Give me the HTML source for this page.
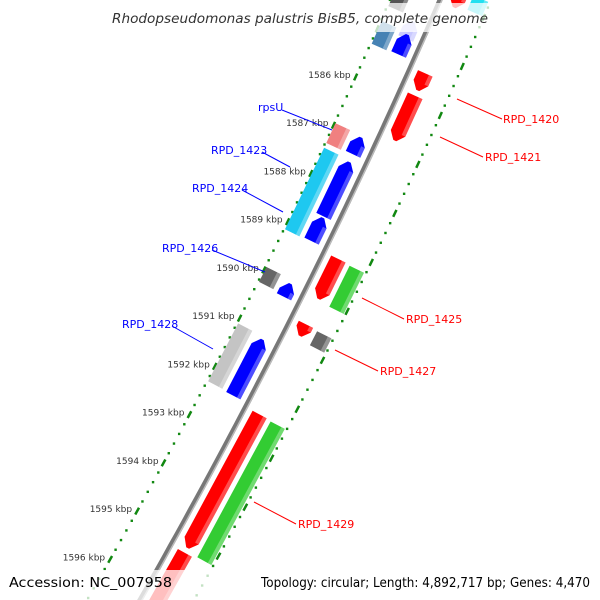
<!DOCTYPE html>
<html><head><meta charset="utf-8"><style>
html,body{margin:0;padding:0;background:#fff;width:600px;height:600px;overflow:hidden;}
svg{display:block;}
text{font-family:"DejaVu Sans","Liberation Sans",sans-serif;}
</style></head><body>
<svg id="map" width="600" height="600" viewBox="0 0 600 600" xmlns="http://www.w3.org/2000/svg">
<g id="ticks"></g>
<g id="backbone"></g>
<g id="genes"></g>
<g id="labels">
<line x1="282" y1="110" x2="332" y2="130" stroke="#0000ff" stroke-width="1"/>
<text x="258" y="111" font-size="11" fill="#0000ff">rpsU</text>
<line x1="262" y1="152" x2="290" y2="167" stroke="#0000ff"/>
<text x="211" y="154" font-size="11" fill="#0000ff">RPD_1423</text>
<line x1="242" y1="190" x2="283" y2="212" stroke="#0000ff"/>
<text x="192" y="192" font-size="11" fill="#0000ff">RPD_1424</text>
<line x1="212" y1="250" x2="265" y2="272" stroke="#0000ff"/>
<text x="162" y="252" font-size="11" fill="#0000ff">RPD_1426</text>
<line x1="172" y1="326" x2="213" y2="349" stroke="#0000ff"/>
<text x="122" y="328" font-size="11" fill="#0000ff">RPD_1428</text>
<line x1="457" y1="99" x2="502" y2="119" stroke="#ff0000"/>
<text x="503" y="123" font-size="11" fill="#ff0000">RPD_1420</text>
<line x1="440" y1="137" x2="483" y2="157" stroke="#ff0000"/>
<text x="485" y="161" font-size="11" fill="#ff0000">RPD_1421</text>
<line x1="362" y1="298" x2="404" y2="319" stroke="#ff0000"/>
<text x="406" y="323" font-size="11" fill="#ff0000">RPD_1425</text>
<line x1="335" y1="350" x2="378" y2="371" stroke="#ff0000"/>
<text x="380" y="375" font-size="11" fill="#ff0000">RPD_1427</text>
<line x1="254" y1="502" x2="296" y2="524" stroke="#ff0000"/>
<text x="298" y="528" font-size="11" fill="#ff0000">RPD_1429</text>
</g>
<rect x="0" y="3" width="600" height="29" fill="#fff" opacity="0.75"/>
<text x="300" y="23" font-size="13" font-style="italic" fill="#333" text-anchor="middle" textLength="376" lengthAdjust="spacingAndGlyphs">Rhodopseudomonas palustris BisB5, complete genome</text>
<rect x="0" y="570" width="600" height="30" fill="#fff" opacity="0.75"/>
<text x="9" y="587" font-size="13" fill="#000" textLength="163" lengthAdjust="spacingAndGlyphs">Accession: NC_007958</text>
<text x="261" y="587" font-size="13" fill="#000" textLength="329" lengthAdjust="spacingAndGlyphs">Topology: circular; Length: 4,892,717 bp; Genes: 4,470</text>
</svg>
<script>
// gene data (kbp)
const geneStarts = [1584.6,1584.87,1586.99,1587.50,1588.65,1590.01,1591.16, 1583.9,1584.83,1586.95,1587.46,1589.93,1591.10, 1583.8,1585.40,1585.86,1589.21,1590.55,1592.40,1595.24, 1583.7,1589.23,1590.57,1592.42];
const geneEnds   = [1584.95,1585.28,1587.34,1588.62,1589.13,1590.28,1592.32, 1584.52,1585.30,1587.36,1589.15,1590.24,1592.30, 1584.05,1585.75,1586.78,1590.03,1590.79,1595.14,1596.5, 1583.99,1590.07,1590.86,1595.20];
const geneTracks = [-1,-1,-1,-1,-1,-1,-1, -2,-2,-2,-2,-2,-2, 1,1,1,1,1,1,1, 2,2,2,2];
const geneColors = ["#c8c8ff","#0000ff","#0000ff","#0000ff","#0000ff","#0000ff","#0000ff", "#555","#4682b4","#f08080","#1ec8f0","#666","#c4c4c4", "#ff0000","#ff0000","#ff0000","#ff0000","#ff0000","#ff0000","#ff0000", "#22e0f0","#33cc33","#666","#33cc33"];
const tickStartKbp = 1583;
const tickEndKbp = 1597;
const tickLabels = ["1586 kbp","1587 kbp","1588 kbp","1589 kbp","1590 kbp","1591 kbp","1592 kbp","1593 kbp","1594 kbp","1595 kbp","1596 kbp"];
const tickLabelKbp = [1586,1587,1588,1589,1590,1591,1592,1593,1594,1595,1596];

const NS="http://www.w3.org/2000/svg";
function X(y){return 440-0.4314*y-0.0001143*y*y;}
function Yk(k){return 96+(k-1586)*48.6;}
function pt(k,p){
  const y=Yk(k), x=X(y);
  const dx=-0.4314-0.0002286*y, L=Math.sqrt(dx*dx+1);
  const nx=1/L, ny=-dx/L;
  return [x+p*nx, y+p*ny];
}
function mk(tag,attrs,parent){const e=document.createElementNS(NS,tag);for(const a in attrs)e.setAttribute(a,attrs[a]);parent.appendChild(e);return e;}
function poly(pts){return pts.map(q=>q[0].toFixed(1)+","+q[1].toFixed(1)).join(" ");}

// ticks
const tg=document.getElementById('ticks');
[-46,47].forEach(function(p){
  const n=Math.round((tickEndKbp-tickStartKbp)*5);
  for(let i=0;i<=n;i++){
    const k=tickStartKbp+i*0.2;
    const c=pt(k,p);
    if(c[1]<-5||c[1]>605) continue;
    if(i%5===0){
      const a=pt(k-0.07,p), b=pt(k+0.07,p);
      const l=mk('line',{x1:a[0],y1:a[1],x2:b[0],y2:b[1],stroke:'#118811','stroke-width':2.5},tg);
      
      
    } else {
      const r=mk('rect',{x:c[0]-1.2,y:c[1]-1.2,width:2.4,height:2.4,fill:'#118811'},tg);
      
      
    }
  }
});
tickLabelKbp.forEach(function(k,i){
  const c=pt(k,-46);
  const t=mk('text',{x:c[0]-5,y:c[1]+1,'font-size':9,fill:'#333','text-anchor':'end'},tg);
  t.textContent=tickLabels[i];
  
  
});

// backbone
const bg=document.getElementById('backbone');
let bpts=[],hpts=[];
for(let k=1583;k<=1597.5;k+=0.25){bpts.push(pt(k,0));hpts.push(pt(k,1.8));}
const bb=mk('polyline',{points:poly(bpts),fill:'none',stroke:'#777','stroke-width':5},bg);


const bh=mk('polyline',{points:poly(hpts),fill:'none',stroke:'#bbb','stroke-width':1.5},bg);



// genes
const gg=document.getElementById('genes');
const offs={"-1":-16,"-2":-37,"1":16,"2":37};
geneStarts.forEach(function(s,i){
  const e=geneEnds[i], tr=geneTracks[i], p=offs[tr], w=8;
  let pts;
  const head=Math.min(0.15,(e-s)*0.6);
  if(tr===-1){
    pts=[pt(e,p-w),pt(e,p+w),pt(s+head,p+w),pt(s,p+w*0.2),pt(s,p-w*0.2),pt(s+head,p-w)];
  } else if(tr===1){
    pts=[pt(s,p-w),pt(s,p+w),pt(e-head,p+w),pt(e,p+w*0.2),pt(e,p-w*0.2),pt(e-head,p-w)];
  } else {
    pts=[pt(s,p-w),pt(s,p+w),pt(e,p+w),pt(e,p-w)];
  }
  const g=mk('polygon',{points:poly(pts),fill:geneColors[i]},gg);
  
  
  const hs=s+(tr===-1?head:0), he=e-(tr===1?head:0);
  const side=[p+w-4,p+w];
  const st=mk('polygon',{points:poly([pt(hs,side[0]),pt(hs,side[1]),pt(he,side[1]),pt(he,side[0])]),fill:'#fff',opacity:0.3},gg);
  
  
});
</script>
</body></html>
